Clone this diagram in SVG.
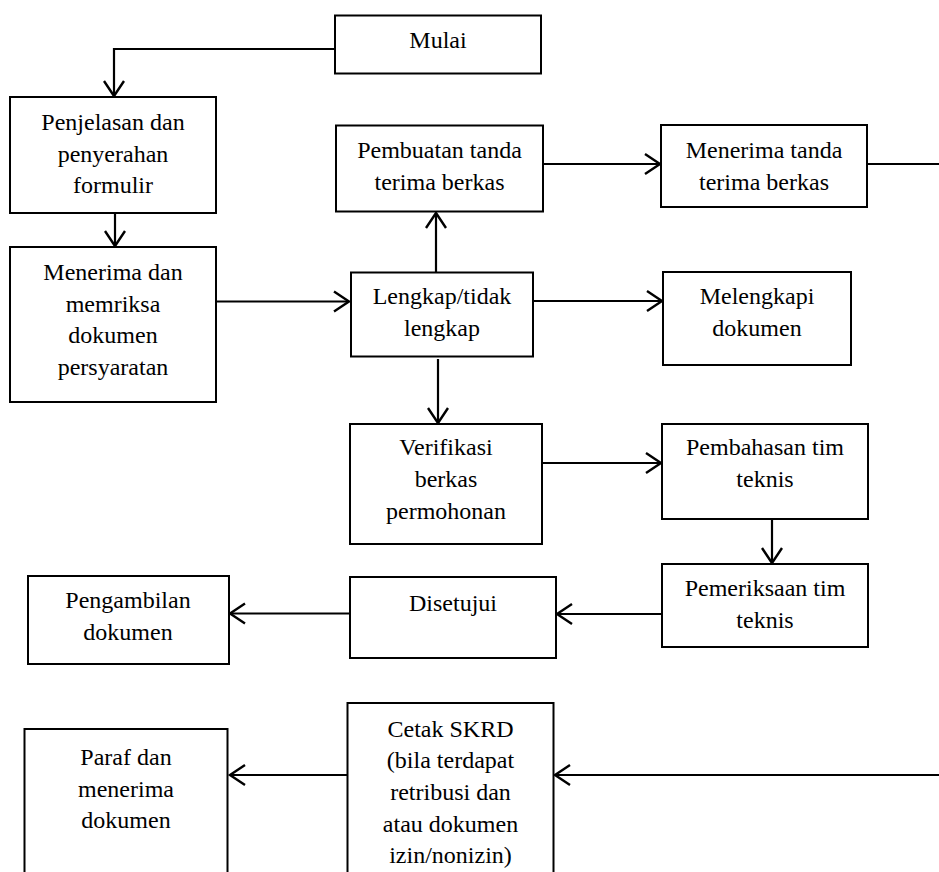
<svg xmlns="http://www.w3.org/2000/svg" width="939" height="872" viewBox="0 0 939 872">
<style>
.box{fill:#fff;stroke:#000;stroke-width:2}
.t{font-family:'Liberation Serif','Times New Roman',serif;font-size:24px;fill:#000;text-anchor:middle}
.c{fill:none;stroke:#000;stroke-width:2.2}
</style>
<defs>
<marker id="ah" markerUnits="userSpaceOnUse" markerWidth="22" markerHeight="26" refX="17" refY="12" orient="auto">
<path d="M2,2 L17,12 L2,22" fill="none" stroke="#000" stroke-width="2.4"/>
</marker>
</defs>
<rect width="939" height="872" fill="#fff"/>
<g id="connectors">
<path class="c" d="M335,49 H114 V96" marker-end="url(#ah)"/>
<path class="c" d="M115,213 V246" marker-end="url(#ah)"/>
<path class="c" d="M216,301.5 H349" marker-end="url(#ah)"/>
<path class="c" d="M436,272.5 V213" marker-end="url(#ah)"/>
<path class="c" d="M543,164 H660" marker-end="url(#ah)"/>
<path class="c" d="M867,164 H939"/>
<path class="c" d="M533,301 H662" marker-end="url(#ah)"/>
<path class="c" d="M438,359 V423" marker-end="url(#ah)"/>
<path class="c" d="M540,463 H661" marker-end="url(#ah)"/>
<path class="c" d="M772,519 V563" marker-end="url(#ah)"/>
<path class="c" d="M662,614 H557" marker-end="url(#ah)"/>
<path class="c" d="M350,613.5 H230" marker-end="url(#ah)"/>
<path class="c" d="M939,775 H555" marker-end="url(#ah)"/>
<path class="c" d="M348,775 H230" marker-end="url(#ah)"/>
</g>
<g id="mulai"><rect class="box" x="335" y="15.5" width="206" height="58"/><text class="t" x="438" y="48">Mulai</text></g>
<g id="penjelasan"><rect class="box" x="10" y="97" width="206" height="116"/><text class="t" x="113" y="130">Penjelasan dan</text><text class="t" x="113" y="161.5">penyerahan</text><text class="t" x="113" y="193">formulir</text></g>
<g id="menerima-dokumen"><rect class="box" x="10" y="247" width="206" height="155"/><text class="t" x="113" y="280">Menerima dan</text><text class="t" x="113" y="311.5">memriksa</text><text class="t" x="113" y="343">dokumen</text><text class="t" x="113" y="374.5">persyaratan</text></g>
<g id="pembuatan"><rect class="box" x="336" y="125.5" width="207" height="86"/><text class="t" x="439.5" y="158">Pembuatan tanda</text><text class="t" x="439.5" y="190">terima berkas</text></g>
<g id="menerima-tanda"><rect class="box" x="661" y="125" width="206" height="82"/><text class="t" x="764" y="158">Menerima tanda</text><text class="t" x="764" y="190">terima berkas</text></g>
<g id="lengkap"><rect class="box" x="351" y="272.5" width="182" height="84"/><text class="t" x="442" y="304">Lengkap/tidak</text><text class="t" x="442" y="336">lengkap</text></g>
<g id="melengkapi"><rect class="box" x="663" y="272" width="188" height="93"/><text class="t" x="757" y="304">Melengkapi</text><text class="t" x="757" y="336">dokumen</text></g>
<g id="verifikasi"><rect class="box" x="350" y="424" width="192" height="120"/><text class="t" x="446" y="455">Verifikasi</text><text class="t" x="446" y="487">berkas</text><text class="t" x="446" y="519">permohonan</text></g>
<g id="pembahasan"><rect class="box" x="662" y="424" width="206" height="95"/><text class="t" x="765" y="455">Pembahasan tim</text><text class="t" x="765" y="487">teknis</text></g>
<g id="pemeriksaan"><rect class="box" x="662" y="564" width="206" height="83"/><text class="t" x="765" y="596">Pemeriksaan tim</text><text class="t" x="765" y="628">teknis</text></g>
<g id="disetujui"><rect class="box" x="350" y="577" width="206" height="81"/><text class="t" x="453" y="611">Disetujui</text></g>
<g id="pengambilan"><rect class="box" x="28" y="576" width="201" height="88"/><text class="t" x="128" y="608">Pengambilan</text><text class="t" x="128" y="640">dokumen</text></g>
<g id="cetak"><rect class="box" x="347.5" y="703" width="206" height="200"/><text class="t" x="450.5" y="737">Cetak SKRD</text><text class="t" x="450.5" y="768">(bila terdapat</text><text class="t" x="450.5" y="800">retribusi dan</text><text class="t" x="450.5" y="832">atau dokumen</text><text class="t" x="450.5" y="863">izin/nonizin)</text></g>
<g id="paraf"><rect class="box" x="24.5" y="729" width="203" height="200"/><text class="t" x="126" y="765">Paraf dan</text><text class="t" x="126" y="797">menerima</text><text class="t" x="126" y="828">dokumen</text></g>
</svg>
